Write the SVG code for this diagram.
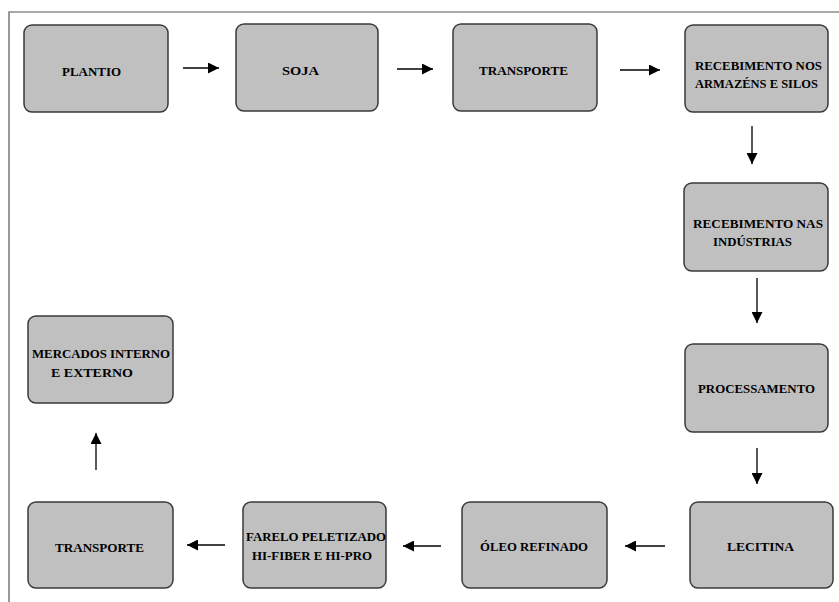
<svg xmlns="http://www.w3.org/2000/svg" width="839" height="602" viewBox="0 0 839 602">
<style>
.box{fill:#c0c0c0;stroke:#3a3a3a;stroke-width:1.5}
.t{font-family:"Liberation Serif","DejaVu Serif","Times New Roman",serif;font-weight:bold;font-size:13px;fill:#000;text-anchor:start}
.c{stroke:#000;stroke-width:1.3;fill:none}
</style>
<defs>
<marker id="ah" viewBox="0 0 10 10" refX="10" refY="5" markerWidth="14" markerHeight="11" markerUnits="userSpaceOnUse" orient="auto">
<path d="M0,0 L10,5 L0,10 Z" fill="#000"/>
</marker>
</defs>
<rect width="839" height="602" fill="#fff"/>
<path d="M9,602 V12 H839" fill="none" stroke="#555" stroke-width="1.2"/>
<g id="n1"><rect class="box" x="24" y="25" width="144" height="87" rx="8"/><text class="t" x="62" y="76" textLength="59" lengthAdjust="spacingAndGlyphs">PLANTIO</text></g>
<g id="n2"><rect class="box" x="236" y="24" width="142" height="87" rx="8"/><text class="t" x="282" y="75" textLength="37" lengthAdjust="spacingAndGlyphs">SOJA</text></g>
<g id="n3"><rect class="box" x="453" y="24" width="144" height="87" rx="8"/><text class="t" x="479" y="75" textLength="89" lengthAdjust="spacingAndGlyphs">TRANSPORTE</text></g>
<g id="n4"><rect class="box" x="685" y="25" width="143" height="87" rx="8"/><text class="t" x="695" y="70" textLength="127" lengthAdjust="spacingAndGlyphs">RECEBIMENTO NOS</text><text class="t" x="695" y="88" textLength="123" lengthAdjust="spacingAndGlyphs">ARMAZÉNS E SILOS</text></g>
<g id="n5"><rect class="box" x="684" y="183" width="144" height="88" rx="8"/><text class="t" x="693" y="228" textLength="130" lengthAdjust="spacingAndGlyphs">RECEBIMENTO NAS</text><text class="t" x="713" y="246" textLength="79" lengthAdjust="spacingAndGlyphs">INDÚSTRIAS</text></g>
<g id="n6"><rect class="box" x="685" y="344" width="143" height="88" rx="8"/><text class="t" x="698" y="393" textLength="117" lengthAdjust="spacingAndGlyphs">PROCESSAMENTO</text></g>
<g id="n7"><rect class="box" x="690" y="502" width="143" height="86" rx="8"/><text class="t" x="727" y="551" textLength="67" lengthAdjust="spacingAndGlyphs">LECITINA</text></g>
<g id="n8"><rect class="box" x="462" y="502" width="145" height="86" rx="8"/><text class="t" x="480" y="551" textLength="108" lengthAdjust="spacingAndGlyphs">ÓLEO REFINADO</text></g>
<g id="n9"><rect class="box" x="243" y="502" width="143" height="86" rx="8"/><text class="t" x="246" y="541" textLength="140" lengthAdjust="spacingAndGlyphs">FARELO PELETIZADO</text><text class="t" x="252" y="560" textLength="120" lengthAdjust="spacingAndGlyphs">HI-FIBER E HI-PRO</text></g>
<g id="n10"><rect class="box" x="28" y="502" width="145" height="86" rx="8"/><text class="t" x="55" y="552" textLength="89" lengthAdjust="spacingAndGlyphs">TRANSPORTE</text></g>
<g id="n11"><rect class="box" x="28" y="316" width="145" height="87" rx="8"/><text class="t" x="32" y="358" textLength="138" lengthAdjust="spacingAndGlyphs">MERCADOS INTERNO</text><text class="t" x="51" y="377" textLength="82" lengthAdjust="spacingAndGlyphs">E EXTERNO</text></g>
<g id="connectors">
<line class="c" x1="183" y1="68" x2="219" y2="68" marker-end="url(#ah)"/>
<line class="c" x1="397" y1="69" x2="433" y2="69" marker-end="url(#ah)"/>
<line class="c" x1="620" y1="70" x2="660" y2="70" marker-end="url(#ah)"/>
<line class="c" x1="752" y1="126" x2="752" y2="164" marker-end="url(#ah)"/>
<line class="c" x1="757" y1="278" x2="757" y2="323" marker-end="url(#ah)"/>
<line class="c" x1="757" y1="448" x2="757" y2="484" marker-end="url(#ah)"/>
<line class="c" x1="665" y1="546" x2="625" y2="546" marker-end="url(#ah)"/>
<line class="c" x1="441" y1="546" x2="403" y2="546" marker-end="url(#ah)"/>
<line class="c" x1="225" y1="545" x2="187" y2="545" marker-end="url(#ah)"/>
<line class="c" x1="96" y1="470" x2="96" y2="433" marker-end="url(#ah)"/>
</g>
</svg>
